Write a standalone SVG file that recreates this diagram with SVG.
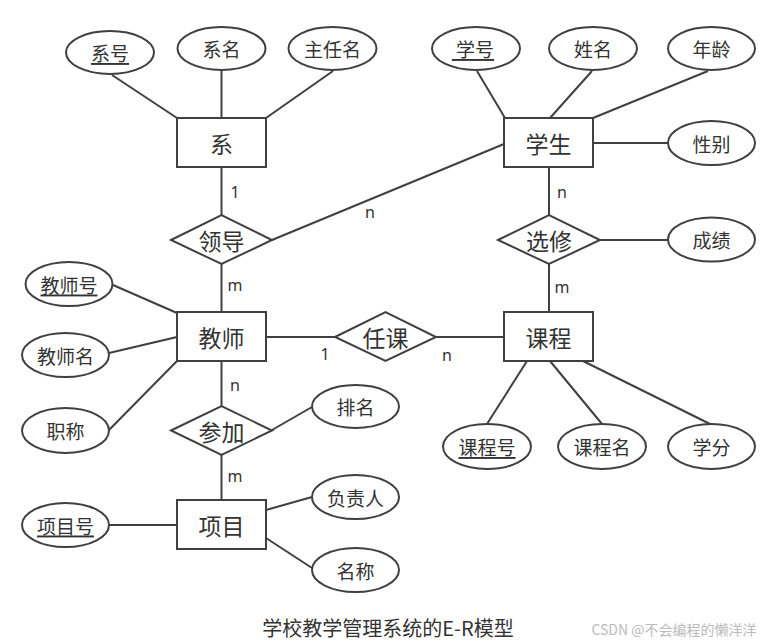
<svg xmlns="http://www.w3.org/2000/svg" width="767" height="643" viewBox="0 0 767 643">
<style>
.s{fill:#fff;stroke:#404040;stroke-width:2}
.l{stroke:#404040;stroke-width:2;fill:none}
text{font-family:"Noto Sans CJK SC","Noto Sans",sans-serif;fill:#333;text-anchor:middle;dominant-baseline:central}
.a{font-size:19px}
.e{font-size:23px}
.c{font-size:16px;font-family:"Noto Sans","Liberation Sans",sans-serif}
.u{text-decoration:underline}
</style>
<rect width="767" height="643" fill="#fff"/>
<g id="connectors">
<line class="l" x1="112" y1="75" x2="177" y2="118"/>
<line class="l" x1="221.5" y1="70" x2="221.5" y2="118"/>
<line class="l" x1="333" y1="71" x2="266" y2="118"/>
<line class="l" x1="477" y1="71" x2="505" y2="118"/>
<line class="l" x1="592" y1="71" x2="550" y2="118"/>
<line class="l" x1="708" y1="71" x2="593" y2="118"/>
<line class="l" x1="593" y1="143" x2="668" y2="143"/>
<line class="l" x1="504" y1="144" x2="272" y2="240"/>
<line class="l" x1="221.5" y1="167" x2="221.5" y2="215"/>
<line class="l" x1="221.5" y1="264" x2="221.5" y2="312"/>
<line class="l" x1="549" y1="167" x2="549" y2="215"/>
<line class="l" x1="600" y1="240" x2="668" y2="240"/>
<line class="l" x1="549" y1="264" x2="549" y2="312"/>
<line class="l" x1="266" y1="337" x2="335" y2="337"/>
<line class="l" x1="436" y1="337" x2="504" y2="337"/>
<line class="l" x1="113" y1="285" x2="177" y2="313"/>
<line class="l" x1="109" y1="353" x2="177" y2="337"/>
<line class="l" x1="109" y1="430" x2="177" y2="361"/>
<line class="l" x1="221.5" y1="361" x2="221.5" y2="406"/>
<line class="l" x1="272" y1="430" x2="312" y2="407"/>
<line class="l" x1="221.5" y1="455" x2="221.5" y2="500"/>
<line class="l" x1="109" y1="525" x2="177" y2="525"/>
<line class="l" x1="266" y1="510" x2="312" y2="497"/>
<line class="l" x1="266" y1="538" x2="312" y2="568"/>
<line class="l" x1="527" y1="361" x2="487" y2="424"/>
<line class="l" x1="550" y1="361" x2="602" y2="424"/>
<line class="l" x1="583" y1="361" x2="710" y2="424"/>
<text class="c" x="235" y="192">1</text>
<text class="c" x="370" y="212">n</text>
<text class="c" x="235" y="285">m</text>
<text class="c" x="562" y="192">n</text>
<text class="c" x="562" y="287">m</text>
<text class="c" x="325" y="354">1</text>
<text class="c" x="447" y="355">n</text>
<text class="c" x="235" y="385">n</text>
<text class="c" x="235" y="476">m</text>
</g>
<g id="xi"><rect class="s" x="177" y="118" width="89" height="49"/><text class="e" x="221.5" y="142.5">系</text></g>
<g id="xuesheng"><rect class="s" x="504" y="118" width="89" height="49"/><text class="e" x="548.5" y="142.5">学生</text></g>
<g id="jiaoshi"><rect class="s" x="177" y="312" width="89" height="49"/><text class="e" x="221.5" y="336.5">教师</text></g>
<g id="kecheng"><rect class="s" x="504" y="312" width="89" height="49"/><text class="e" x="548.5" y="336.5">课程</text></g>
<g id="xiangmu"><rect class="s" x="177" y="500" width="89" height="49"/><text class="e" x="221.5" y="524.5">项目</text></g>
<g id="lingdao"><polygon class="s" points="171,240 221.5,215 272,240 221.5,264"/><text class="e" x="221.5" y="240">领导</text></g>
<g id="xuanxiu"><polygon class="s" points="498,240 549,215 600,240 549,264"/><text class="e" x="549" y="240">选修</text></g>
<g id="renke"><polygon class="s" points="335,337 385.5,312 436,337 385.5,361"/><text class="e" x="385.5" y="337">任课</text></g>
<g id="canjia"><polygon class="s" points="171,430.5 221.5,406 272,430.5 221.5,455"/><text class="e" x="221.5" y="430.5">参加</text></g>
<g id="xihao"><ellipse class="s" cx="110" cy="52.5" rx="44" ry="21.5"/><text class="a u" x="110" y="52.5">系号</text></g>
<g id="ximing"><ellipse class="s" cx="221.5" cy="48.5" rx="44" ry="21.5"/><text class="a" x="221.5" y="48.5">系名</text></g>
<g id="zhurenming"><ellipse class="s" cx="332.5" cy="48.5" rx="44" ry="21.5"/><text class="a" x="332.5" y="48.5">主任名</text></g>
<g id="xuehao"><ellipse class="s" cx="476" cy="48.5" rx="44" ry="21.5"/><text class="a u" x="473" y="48.5" xml:space="preserve"> 学号</text></g>
<g id="xingming"><ellipse class="s" cx="593" cy="48.5" rx="44" ry="21.5"/><text class="a" x="593" y="48.5">姓名</text></g>
<g id="nianling"><ellipse class="s" cx="711.5" cy="48.5" rx="43.5" ry="21.5"/><text class="a" x="711.5" y="48.5">年龄</text></g>
<g id="xingbie"><ellipse class="s" cx="711.5" cy="143" rx="43.5" ry="22"/><text class="a" x="711.5" y="143">性别</text></g>
<g id="chengji"><ellipse class="s" cx="711.5" cy="239.5" rx="43.5" ry="22"/><text class="a" x="711.5" y="239.5">成绩</text></g>
<g id="jiaoshihao"><ellipse class="s" cx="69" cy="284" rx="43.5" ry="22"/><text class="a u" x="69" y="284">教师号</text></g>
<g id="jiaoshiming"><ellipse class="s" cx="65.5" cy="355" rx="43.5" ry="22"/><text class="a" x="65.5" y="355">教师名</text></g>
<g id="zhicheng"><ellipse class="s" cx="65.5" cy="430.5" rx="43.5" ry="22.5"/><text class="a" x="65.5" y="430.5">职称</text></g>
<g id="paiming"><ellipse class="s" cx="355.5" cy="406.5" rx="43.5" ry="21.5"/><text class="a" x="355.5" y="406.5">排名</text></g>
<g id="fuzeren"><ellipse class="s" cx="355.5" cy="497" rx="43.5" ry="22"/><text class="a" x="355.5" y="497">负责人</text></g>
<g id="mingcheng"><ellipse class="s" cx="355.5" cy="570" rx="43.5" ry="22"/><text class="a" x="355.5" y="570">名称</text></g>
<g id="xiangmuhao"><ellipse class="s" cx="65.5" cy="525" rx="43.5" ry="22"/><text class="a u" x="65.5" y="525">项目号</text></g>
<g id="kechenghao"><ellipse class="s" cx="487" cy="446.5" rx="44" ry="22.5"/><text class="a u" x="487" y="446.5">课程号</text></g>
<g id="kechengming"><ellipse class="s" cx="602" cy="446.5" rx="44" ry="22.5"/><text class="a" x="602" y="446.5">课程名</text></g>
<g id="xuefen"><ellipse class="s" cx="711.5" cy="446.5" rx="43.5" ry="22.5"/><text class="a" x="711.5" y="446.5">学分</text></g>
<text x="388" y="627" style="font-size:20px">学校教学管理系统的E-R模型</text>
<text x="674" y="629" style="font-size:14px;fill:#bbb">CSDN @不会编程的懒洋洋</text>
</svg>
